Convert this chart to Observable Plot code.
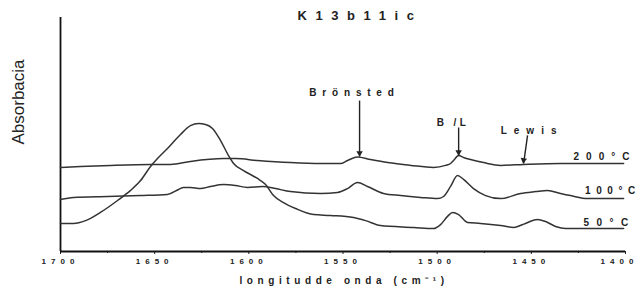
<!DOCTYPE html>
<html><head><meta charset="utf-8">
<script src="https://cdn.jsdelivr.net/npm/d3@7"></script>
<script src="https://cdn.jsdelivr.net/npm/@observablehq/plot@0.6"></script>
<style>
body{margin:0;background:#fff;}
#chart svg{display:block;}
</style>
</head><body><div id="chart"></div>
<script>
// Spectra: [wavenumber (cm-1), absorbance (arb. units)]
const spectrum200 = [
  [1700,0.359],[1689.4,0.363],[1673.4,0.368],[1652.2,0.372],[1641.6,0.372],[1631,0.385],
  [1613.4,0.397],[1607.1,0.397],[1595.4,0.389],[1577.9,0.380],[1561.9,0.376],[1551.3,0.376],
  [1547.6,0.389],[1542.3,0.404],[1535.4,0.393],[1526.3,0.380],[1514.1,0.368],[1501.9,0.359],
  [1495.5,0.368],[1492.9,0.376],[1491.3,0.389],[1488.6,0.410],[1486,0.402],[1482.3,0.393],
  [1475.4,0.380],[1466.3,0.368],[1454.1,0.372],[1434.5,0.376],[1401,0.376]
];
const spectrum100 = [
  [1700,0.222],[1693.1,0.231],[1675,0.235],[1657.5,0.239],[1643.2,0.244],[1637.3,0.265],
  [1634.7,0.274],[1631,0.274],[1625.7,0.269],[1620.3,0.278],[1613.4,0.286],[1607.1,0.282],
  [1600.7,0.274],[1592.7,0.278],[1585.8,0.269],[1577.9,0.256],[1561.9,0.248],[1552.9,0.252],
  [1547.6,0.269],[1542.3,0.295],[1537,0.278],[1528.5,0.248],[1519.4,0.239],[1508.8,0.231],
  [1499.8,0.226],[1496.6,0.235],[1492.9,0.278],[1489.2,0.325],[1486,0.308],[1480.7,0.269],
  [1474.3,0.239],[1466.3,0.226],[1455.7,0.248],[1447.7,0.256],[1441.4,0.261],[1434.5,0.248],
  [1429.2,0.239],[1420.1,0.226],[1401,0.226]
];
const spectrum50 = [
  [1700,0.120],[1693.1,0.120],[1686.7,0.132],[1678.8,0.167],[1669.7,0.218],[1662.8,0.261],
  [1657.5,0.303],[1652.2,0.363],[1648.5,0.397],[1643.2,0.440],[1636.3,0.500],[1631,0.538],
  [1626.7,0.547],[1623,0.543],[1619.3,0.526],[1615,0.474],[1610.8,0.410],[1608.1,0.376],
  [1602.8,0.346],[1595.4,0.312],[1591.1,0.286],[1586.9,0.239],[1581.6,0.209],[1575.2,0.184],
  [1565.6,0.158],[1556.6,0.154],[1544.4,0.145],[1538,0.132],[1530.1,0.111],[1512.5,0.103],
  [1501.9,0.098],[1498.2,0.115],[1494.5,0.150],[1491.8,0.167],[1488.6,0.158],[1483.9,0.124],
  [1477,0.120],[1466.3,0.111],[1459.4,0.103],[1453.1,0.120],[1446.7,0.137],[1442.4,0.128],
  [1437.1,0.107],[1431.8,0.098],[1401,0.098]
];
const seriesNames = ["200°C", "100°C", "50°C"];
const seriesLabelPos = [[1427.6,0.406],[1421.5,0.261],[1422.3,0.124]];
const majorTicks = [1700,1650,1600,1550,1500,1450,1400];
const minorTicks = [1675,1625,1575,1525,1475,1425];
const bandNames = ["Brönsted", "B /L", "Lewis"];
const bandLabelPos = [[1543.9,0.679],[1491.6,0.551],[1449.6,0.517]];
const bandArrows = [[1541.2,0.645,1541.2,0.406],[1488.6,0.530,1488.6,0.410],[1452,0.496,1454.1,0.376]];
const bandArrowRotate = [180,180,188];
const titleText = "K13b11ic";
const xLabel = "longitudde onda (cm⁻¹)";
const yLabel = "Absorbacia";

const spectra = [spectrum200, spectrum100, spectrum50];
const lineData = spectra.flatMap((s, i) => s.map(([x, y]) => ({series: seriesNames[i], x, y})));
const seriesLabels = seriesNames.map((t, i) => ({t, x: seriesLabelPos[i][0], y: seriesLabelPos[i][1]}));
const bandLabels = bandNames.map((t, i) => ({t, x: bandLabelPos[i][0], y: bandLabelPos[i][1]}));
const arrows = bandArrows.map(([x1,y1,x2,y2], i) => ({x1,y1,x2,y2, r: bandArrowRotate[i]}));

const ink = "#222";
const chart = Plot.plot({
  width: 640, height: 290,
  marginLeft: 60, marginRight: 15, marginTop: 17, marginBottom: 39,
  style: {fontFamily: "'Liberation Sans', Arial, sans-serif", background: "#fff", color: ink},
  x: {domain: [1700, 1400]},
  y: {domain: [0, 1], axis: null},
  marks: [
    Plot.axisX(majorTicks, {tickSize: 3, tickPadding: 4, fontSize: 8, fontWeight: "bold", tickFormat: d => `${d}`, label: null, stroke: ink}),
    Plot.axisX(minorTicks, {tickSize: 2, tickFormat: () => "", label: null, stroke: ink}),
    Plot.ruleX([1700], {stroke: "#111", strokeWidth: 1.8}),
    Plot.ruleY([0], {stroke: "#111", strokeWidth: 1.8}),
    Plot.line(lineData, {x: "x", y: "y", z: "series", stroke: "#333", strokeWidth: 1.5, curve: "monotone-x"}),
    Plot.link(arrows, {x1: "x1", y1: "y1", x2: "x2", y2: "y2", stroke: ink, strokeWidth: 1.4}),
    Plot.dot(arrows, {x: "x2", y: "y2", symbol: "triangle", r: 2.4, fill: ink, rotate: "r", dy: -3.4}),
    Plot.text(bandLabels, {x: "x", y: "y", text: "t", fontSize: 10, fontWeight: "bold", fill: ink, textAnchor: "middle", lineAnchor: "middle"}),
    Plot.text(seriesLabels, {x: "x", y: "y", text: "t", fontSize: 10, fontWeight: "bold", fill: ink, textAnchor: "start", lineAnchor: "middle"}),
    Plot.text([titleText], {frameAnchor: "top", dy: -2, dx: 17, text: d => d, fontSize: 13, fontWeight: "bold", fill: ink, lineAnchor: "middle"}),
    Plot.text([xLabel], {frameAnchor: "bottom", dy: 29, dx: 1, text: d => d, fontSize: 10, fontWeight: "bold", fill: ink, lineAnchor: "middle"}),
    Plot.text([yLabel], {frameAnchor: "left", dx: -42, dy: 10, rotate: -90, text: d => d, fontSize: 17, fill: ink, lineAnchor: "middle"})
  ]
});
document.getElementById("chart").appendChild(chart);

// letter spacing as in the reference
const spacing = {"Brönsted": 5.8, "B /L": 3.4, "Lewis": 7, "200°C": 7, "100°C": 5.6, "50°C": 7.5};
spacing[titleText] = 8.6; spacing[xLabel] = 4.6;
d3.select(chart).selectAll("text").each(function() {
  const t = this.textContent;
  let s = spacing[t];
  if (s === undefined && majorTicks.map(String).includes(t)) {
    s = 5;
    d3.select(this).attr("font-weight", "bold").attr("font-size", 8).attr("dx", t === "1400" ? -6 : 0);
  }
  if (s !== undefined) d3.select(this).attr("letter-spacing", s);
});
</script>
</body></html>
